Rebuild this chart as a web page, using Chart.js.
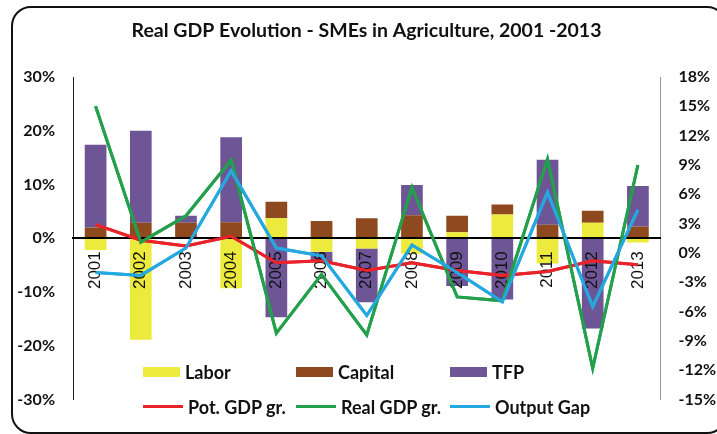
<!DOCTYPE html>
<html>
<head>
<meta charset="utf-8">
<script src="https://cdn.jsdelivr.net/npm/chart.js@4.4.1/dist/chart.umd.min.js"></script>
<style>
  html, body { margin: 0; padding: 0; background: #fff; overflow: hidden; }
  #wrap { position: relative; width: 717px; height: 434px; overflow: hidden; }
  #frame {
    position: absolute; left: 11px; top: 6px; width: 712px; height: 424px;
    border: 2.5px solid #111; border-radius: 20px; pointer-events: none;
  }
  #legend { position: absolute; left: 0; top: 0; width: 717px; height: 434px; pointer-events: none;
    font-family: Lato, "Open Sans", sans-serif; font-weight: bold; font-size: 18px; color: #111; }
  .item { position: absolute; display: flex; align-items: center; height: 20px; }
  .sw { display: inline-block; margin-right: 5px; }
</style>
</head>
<body>
<div id="wrap">
  <canvas id="chart" width="717" height="434"></canvas>
  <div id="frame"></div>
  <div id="legend"></div>
</div>
<script>
// values, in percent
const years = ["2001","2002","2003","2004","2005","2006","2007","2008","2009","2010","2011","2012","2013"];
const labor   = [-2.2, -18.9, 0, -9.3, 3.7, -2.5, -1.9, -2.9, 1.1, 4.4, -4.7, 2.9, -0.8];
const capital = [2.0, 2.9, 2.9, 3.0, 3.1, 3.2, 3.7, 4.3, 3.1, 1.9, 2.5, 2.2, 2.2];
const tfp     = [15.4, 17.1, 1.3, 15.8, -14.7, -1.9, -10.0, 5.6, -8.9, -11.4, 12.1, -16.8, 7.5];
const potGdp  = [2.9, 1.3, 0.7, 1.7, -1.0, -0.8, -1.8, -1.0, -1.8, -2.3, -1.9, -0.8, -1.2];
const realGdp = [15.0, 1.1, 3.8, 9.5, -8.2, -2.2, -8.4, 6.7, -4.5, -4.9, 9.6, -11.8, 9.0];
const outGap  = [-2.0, -2.3, 0.5, 8.4, 0.5, -0.3, -6.4, 0.8, -2.0, -5.0, 6.2, -5.5, 4.4];

const tickFont = { family: "Lato, 'Open Sans', sans-serif", size: 16, weight: "bold" };

function bar(label, data, color){
  return { type: "bar", label, data, backgroundColor: color, yAxisID: "y", stack: "s",
    categoryPercentage: 0.48, barPercentage: 1, order: 2 };
}
function line(label, data, color){
  return { type: "line", label, data, borderColor: color, backgroundColor: color, yAxisID: "y1",
    borderWidth: 3, pointRadius: 0, tension: 0, fill: false, order: 1 };
}

const datasets = [
  bar("Labor", labor, "#ecea3c"),
  bar("Capital", capital, "#8e4a1e"),
  bar("TFP", tfp, "#6d5596"),
  line("Pot. GDP gr.", potGdp, "#e8232a"),
  line("Real GDP gr.", realGdp, "#24a04c"),
  line("Output Gap", outGap, "#25a8e0")
];

// year labels sit over the bars but under the lines, so redraw lines last
const linesOnTop = {
  id: "linesOnTop",
  afterDraw(chart){
    chart.data.datasets.forEach((ds, i) => {
      if (ds.type === "line") chart.getDatasetMeta(i).controller.draw();
    });
  }
};

const chart = new Chart(document.getElementById("chart"), {
  data: { labels: years, datasets },
  plugins: [linesOnTop],
  options: {
    responsive: false,
    animation: false,
    layout: { padding: { left: 16, right: 0, top: 0, bottom: 34.5 } },
    plugins: {
      legend: { display: false },
      tooltip: { enabled: false },
      title: {
        display: true,
        text: "Real GDP Evolution - SMEs in Agriculture, 2001 -2013",
        color: "#111",
        font: { family: "Lato, 'Open Sans', sans-serif", size: 19.5, weight: "bold", lineHeight: 1.2 },
        padding: { top: 18.8, bottom: 34.8 }
      }
    },
    scales: {
      x: {
        stacked: true,
        position: { y: 0 },
        grid: { display: false, drawTicks: false },
        border: { display: true, color: "#000", width: 2, z: 1 },
        ticks: { z: 1, color: "#111", font: { family: "'Liberation Sans', Arial, sans-serif", size: 17 },
          minRotation: 90, maxRotation: 90, autoSkip: false, padding: 13 }
      },
      y: {
        stacked: true,
        position: "left",
        min: -30, max: 30,
        grid: { display: false, drawTicks: false },
        border: { display: true, color: "#222", width: 1 },
        ticks: { stepSize: 10, padding: 18, color: "#111", font: tickFont, callback: v => v + "%" },
        afterFit: s => { s.width = 57; }
      },
      y1: {
        stacked: false,
        position: "right",
        min: -15, max: 18,
        grid: { display: false, drawTicks: false },
        border: { display: true, color: "#999", width: 1 },
        ticks: { stepSize: 3, padding: 18, color: "#111", font: tickFont, callback: v => v + "%" },
        afterFit: s => { s.width = 56.5; }
      }
    }
  }
});

// legend laid out in a 3 x 2 grid like the original
const legend = document.getElementById("legend");
const colX = [143, 296, 450];
const rowY = [371.7, 406.7];
datasets.forEach((ds, i) => {
  const isBar = ds.type === "bar";
  const el = document.createElement("div");
  el.className = "item";
  el.style.left = colX[i % 3] + "px";
  el.style.top = (rowY[Math.floor(i / 3)] - 10) + "px";
  const sw = document.createElement("span");
  sw.className = "sw";
  sw.style.width = (isBar ? 37 : 40) + "px";
  sw.style.height = (isBar ? 10 : 3) + "px";
  sw.style.background = ds.backgroundColor;
  el.appendChild(sw);
  el.appendChild(document.createTextNode(ds.label));
  legend.appendChild(el);
});
</script>
</body>
</html>
